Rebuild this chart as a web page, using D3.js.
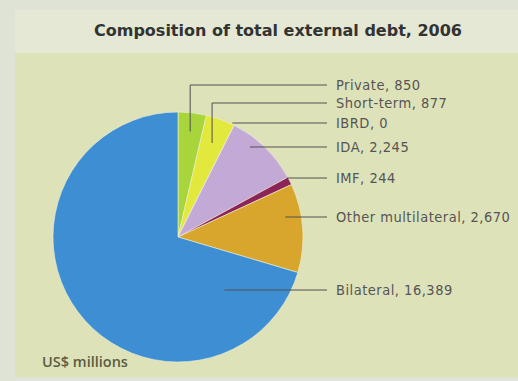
<!DOCTYPE html>
<html lang="en">
<head>
<meta charset="utf-8">
<title>Composition of total external debt, 2006</title>
<script src="https://d3js.org/d3.v7.min.js"></script>
<style>
  body { margin: 0; background: #dfe3d6; }
</style>
</head>
<body>
<div id="chart"></div>
<script>
// Debt categories, US$ millions
var categories = ["Private", "Short-term", "IBRD", "IDA", "IMF", "Other multilateral", "Bilateral"];
var values = [850, 877, 0, 2245, 244, 2670, 16389];
var sliceColours = ["#a9d53c", "#e3e83c", "#e3e83c", "#c2a9d6", "#8c2458", "#d8a62c", "#3d8ed3"];

var width = 518, height = 381;
var cx = 178, cy = 237, radius = 125;
var labelFont = "'DejaVu Sans Condensed', 'DejaVu Sans', sans-serif";

var svg = d3.select("#chart").append("svg")
    .attr("width", width)
    .attr("height", height);

// panel background
svg.append("rect")
    .attr("x", 15).attr("y", 10)
    .attr("width", width - 15).attr("height", height - 14)
    .attr("fill", "#dde2b9");

// title bar
svg.append("rect")
    .attr("x", 15).attr("y", 10)
    .attr("width", width - 15).attr("height", 43)
    .attr("fill", "#e4e8d5");

svg.append("text")
    .attr("x", 278).attr("y", 36)
    .attr("text-anchor", "middle")
    .attr("font-family", "'DejaVu Sans', sans-serif")
    .attr("font-weight", "bold")
    .attr("font-size", 16)
    .attr("fill", "#333")
    .text("Composition of total external debt, 2006");

var data = categories.map(function(c, i){
    return { name: c, value: values[i], colour: sliceColours[i] };
});

var pie = d3.pie()
    .sort(null)
    .value(function(d){ return d.value; });

var arc = d3.arc()
    .innerRadius(0)
    .outerRadius(radius);

var arcs = pie(data);

var g = svg.append("g")
    .attr("transform", "translate(" + cx + "," + cy + ")");

g.selectAll("path")
    .data(arcs)
    .enter()
    .append("path")
        .attr("d", arc)
        .attr("fill", function(d){ return d.data.colour; })
        .attr("stroke", "#eef0dc")
        .attr("stroke-width", 0.6);

// label rows and how far into each slice the leader line reaches
var labelY = [85, 103, 123, 147, 178, 217, 290];
var reach = [0.85, 0.8, 1.06, 0.83, 0.99, 0.87, 0.41];
var labelX = 336, lineEnd = 327;

var leaders = svg.append("g")
    .attr("fill", "none")
    .attr("stroke", "#505050")
    .attr("stroke-width", 1);

arcs.forEach(function(d, i){
    var path;
    if (i < 2) {
        // elbow lines for the thin slices at the top
        var mid = (d.startAngle + d.endAngle) / 2;
        var x0 = cx + Math.sin(mid) * radius * reach[i];
        var y0 = cy - Math.cos(mid) * radius * reach[i];
        path = "M" + x0 + "," + y0 + "V" + labelY[i] + "H" + lineEnd;
    } else {
        // horizontal lines: start part way between centre and the pie edge
        var dy = labelY[i] - cy;
        var edge = Math.sqrt(radius * radius - dy * dy);
        path = "M" + (cx + edge * reach[i]) + "," + labelY[i] + "H" + lineEnd;
    }
    leaders.append("path").attr("d", path);
});

svg.selectAll(".label")
    .data(data)
    .enter()
    .append("text")
        .attr("class", "label")
        .attr("x", labelX)
        .attr("y", function(d, i){ return labelY[i] + 5; })
        .attr("font-family", labelFont)
        .attr("font-size", 14.5)
        .attr("letter-spacing", 0.5)
        .attr("fill", "#555")
        .text(function(d){ return d.name + ", " + d3.format(",")(d.value); });

svg.append("text")
    .attr("x", 42).attr("y", 367)
    .attr("font-family", "'Open Sans', sans-serif")
    .attr("font-size", 14.5)
    .attr("font-weight", 600)
    .attr("fill", "#5b5b42")
    .text("US$ millions");
</script>
</body>
</html>
